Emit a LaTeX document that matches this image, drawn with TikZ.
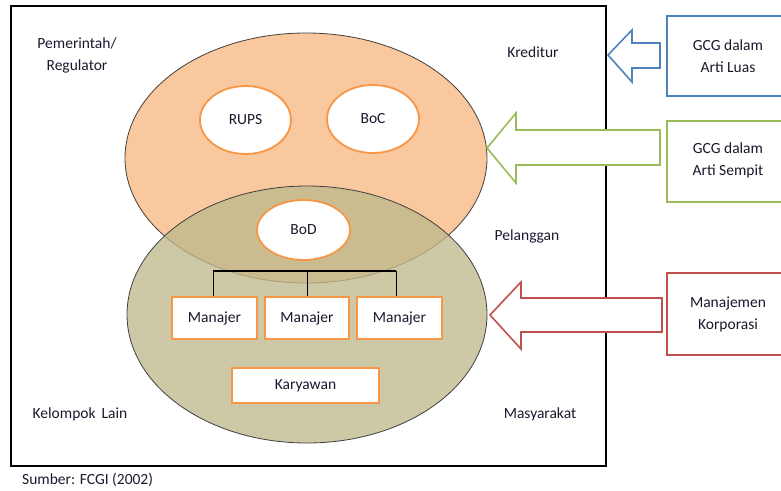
\documentclass[tikz,border=0pt]{standalone}
\usepackage{fontspec}
\setmainfont{Carlito}
\usetikzlibrary{shapes.geometric}
\definecolor{ofill}{RGB}{249,200,158}
\definecolor{olive}{RGB}{191,185,141}
\definecolor{oline}{RGB}{247,150,70}
\definecolor{bline}{RGB}{79,129,189}
\definecolor{gline}{RGB}{155,187,89}
\definecolor{rline}{RGB}{192,80,77}
\definecolor{txt}{RGB}{25,25,45}
\begin{document}
\begin{tikzpicture}[x=1pt,y=-1pt,
  every node/.style={font=\fontsize{15.5}{22}\selectfont, text=txt},
  inner/.style={ellipse, draw=oline, line width=1.8pt, fill=white, inner sep=0pt},
  mbox/.style={rectangle, draw=oline, line width=1.8pt, fill=white, inner sep=0pt},
  sidebox/.style={rectangle, line width=1.6pt, fill=white, inner sep=0pt, minimum height=#1},
  blockarrow/.style={line width=1.6pt, fill=white, line join=miter},
  lbl/.style={align=center, inner sep=0pt}]
\useasboundingbox (0,0) rectangle (781,490);
% main frame
\node[draw=black, line width=1.8pt, minimum width=595, minimum height=460, inner sep=0pt] (frame) at (308.5,236) {};
% big ellipses
\node[ellipse, draw=black!75, line width=0.8pt, fill=ofill, minimum width=362, minimum height=250, inner sep=0pt] (gcgnarrow) at (306,158) {};
\node[ellipse, draw=black!75, line width=0.8pt, fill=olive, fill opacity=0.78, minimum width=360, minimum height=257, inner sep=0pt] (mgmt) at (307,314.5) {};
% inner ellipses
\node[inner, minimum width=91, minimum height=68] (rups) at (245.5,120) {RUPS};
\node[inner, minimum width=92, minimum height=68] (boc) at (373,119) {BoC};
\node[inner, minimum width=93, minimum height=60] (bod) at (303.5,230) {BoD};
% managers
\node[mbox, minimum width=85, minimum height=42] (m1) at (214.5,318) {Manajer};
\node[mbox, minimum width=84, minimum height=42] (m2) at (307,318) {Manajer};
\node[mbox, minimum width=85, minimum height=42] (m3) at (399.5,318) {Manajer};
\node[mbox, minimum width=147, minimum height=35] (kary) at (305.5,385.5) {Karyawan};
% org bar
\coordinate (barL) at (213,271);
\coordinate (barR) at (396,271);
\draw[line width=2.6pt, black] (barL) -- (barR);
\draw[line width=0.9pt] (m1.north -| barL) -- (barL);
\draw[line width=0.9pt] (m2.north) -- (m2.north |- barL);
\draw[line width=0.9pt] (m3.north -| barR) -- (barR);
% outside labels
\node[lbl] (pem) at (77,55) {Pemerintah/\\Regulator};
\node[lbl] (kred) at (533,52) {Kreditur};
\node[lbl] (pel) at (527,236) {Pelanggan};
\node[lbl] (kel) at (80,414) {Kelompok\, Lain};
\node[lbl] (mas) at (540,414) {Masyarakat};
\node[lbl, anchor=west] (src) at (22,480) {Sumber: FCGI (2002)};
% side boxes
\node[sidebox=80, draw=bline, minimum width=130, anchor=west] (luas) at (666,56) {};
\node[lbl] at (728,56) {GCG dalam\\Arti Luas};
\node[sidebox=81, draw=gline, minimum width=130, anchor=west] (sempit) at (666,161.5) {};
\node[lbl] at (728,160) {GCG dalam\\Arti Sempit};
\node[sidebox=82, draw=rline, minimum width=130, anchor=west] (korp) at (666,314) {};
\node[lbl] at (728,314) {Manajemen\\Korporasi};
% block arrows
\coordinate (tipB) at (608,55);
\draw[blockarrow, draw=bline] (tipB) -- ++(24,-25) -- ++(0,13) -- (660,43) -- (660,68) -- (632,68) -- ++(0,14) -- cycle;
\coordinate (tipG) at (487,148);
\draw[blockarrow, draw=gline] (tipG) -- ++(29,-35) -- ++(0,17) -- (660,130) -- (660,165) -- (516,165) -- ++(0,18) -- cycle;
\coordinate (tipR) at (490,315);
\draw[blockarrow, draw=rline] (tipR) -- ++(31,-33) -- ++(0,16) -- (662,298) -- (662,332) -- (521,332) -- ++(0,17) -- cycle;
\end{tikzpicture}
\end{document}
